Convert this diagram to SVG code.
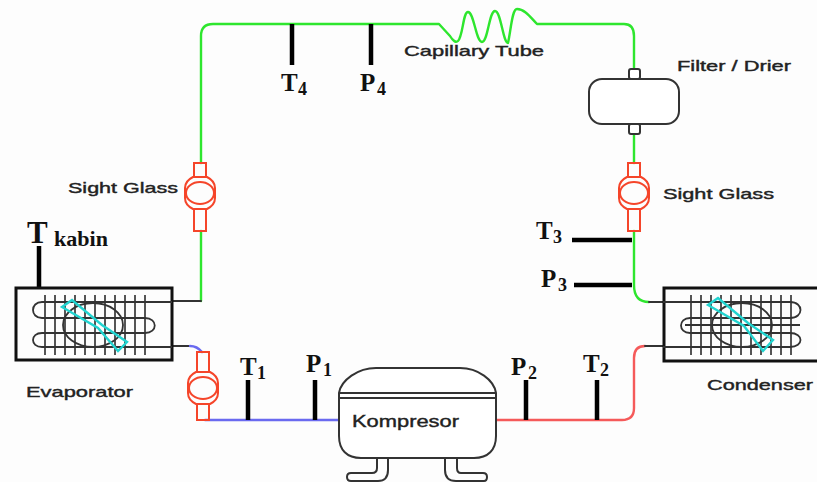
<svg xmlns="http://www.w3.org/2000/svg" width="817" height="482" viewBox="0 0 817 482">
<style>
.bg{fill:#fdfdfd}
.pipe{fill:none;stroke-width:2.4;stroke-linejoin:round;stroke-linecap:round}
.g{stroke:#2ee62e}.b{stroke:#6a6af0}.r{stroke:#f55a5a}.k{stroke:#333;stroke-width:2}
.probe{stroke:#000;stroke-width:4.5;fill:none}
.sg{fill:none;stroke:#f5452a;stroke-width:2}
.box{fill:none;stroke:#111;stroke-width:3}
.coil{fill:none;stroke:#333;stroke-width:1.8}
.fin{stroke:#555;stroke-width:2;fill:none}
.cy{fill:none;stroke:#22d4d0;stroke-width:2.4}
.part{fill:#fff;stroke:#333;stroke-width:2}
.line{fill:none;stroke:#333;stroke-width:2}
.lab{font-family:"Liberation Sans",Arial,sans-serif;font-size:15px;fill:#222;stroke:#222;stroke-width:.4}
.sym{font-family:"Liberation Serif","Times New Roman",serif;font-weight:bold;font-size:25px;fill:#111}
.sub{font-family:"Liberation Serif","Times New Roman",serif;font-weight:bold;font-size:18px;fill:#111}
</style>
<defs>
<g id="sight-body">
<path class="sg" d="M-7-16H7Q15-12 15-5V5Q15 12 7 16H-7Q-15 12-15 5V-5Q-15-12-7-16Z"/>
<ellipse class="sg" cx="0" cy="0" rx="14" ry="11"/>
</g>
</defs>
<rect class="bg" width="817" height="482"/>
<g id="connectors">
<path class="pipe g" d="M201 163V36Q201 24 213 24H439L450 36C453 41 456 43 458 41C463 36 463 12 468 12C474 12 476 42 482 42C488 42 489 11 495 11C501 11 503 43 508 43C511 30 512 9 517 9C525 9 531 18 537 24H624Q634 24 634 36V68"/>
<path class="pipe g" d="M201 231V301"/>
<path class="pipe g" d="M634 134V163"/>
<path class="pipe g" d="M634 231V285Q634 302 649 302"/>
<path class="pipe k" d="M172 301H201"/>
<path class="pipe k" d="M172 346H190"/>
<path class="pipe b" d="M190 346Q197 346 202 352"/>
<path class="pipe b" d="M205 420H338"/>
<path class="pipe r" d="M497 420H622Q634 420 634 408V358Q634 346 645 346"/>
<path class="pipe k" d="M645 346H663M649 302H663"/>
<path class="probe" d="M39 246V288M292 24V65M371 24V65M248 380V420M315 380V420M526 380V420M597 380V420M572 240H632M574 285H632"/>
</g>
<g id="evaporator">
<rect class="box" x="16" y="288" width="156" height="72"/>
<path class="fin" d="M45 295V355M55 295V355M65 295V355M75 295V355M85 295V355M95 295V355M105 295V355M115 295V355M125 295V355M135 295V355M145 295V355"/>
<path class="coil" d="M172 302H42C30 302 30 318 42 318H145C158 318 158 333 145 333H42C30 333 30 347 42 347H172"/>
<ellipse class="coil" cx="93" cy="325" rx="30" ry="22"/>
<path class="cy" d="M62 307L72 300L102 325L127 342L118 351L98 328Z"/>
</g>
<g id="condenser">
<rect class="box" x="664" y="288" width="160" height="73"/>
<path class="fin" d="M691 295V355M701 295V355M711 295V355M721 295V355M731 295V355M741 295V355M751 295V355M761 295V355M771 295V355M781 295V355M791 295V355"/>
<path class="coil" d="M663 302H790C804 302 804 318 790 318H690C678 318 678 333 690 333H790C804 333 804 347 790 347H663M685 325H800"/>
<ellipse class="coil" cx="742" cy="325" rx="30" ry="22"/>
<path class="cy" d="M708 305L718 298L748 323L773 340L763 351L744 326Z"/>
</g>
<g id="sight-glass-left">
<rect class="sg" x="194" y="163" width="12" height="14"/><rect class="sg" x="194" y="209" width="12" height="22"/><use href="#sight-body" x="200" y="193"/>
</g>
<g id="sight-glass-right">
<rect class="sg" x="628" y="163" width="12" height="14"/><rect class="sg" x="628" y="209" width="12" height="22"/><use href="#sight-body" x="634" y="193"/>
</g>
<g id="sight-glass-bottom">
<rect class="sg" x="197" y="352" width="12" height="20"/><rect class="sg" x="197" y="404" width="12" height="16"/><use href="#sight-body" x="203" y="388"/>
</g>
<g id="filter">
<rect class="part" x="629" y="69" width="11" height="10" rx="2"/>
<rect class="part" x="629" y="124" width="11" height="10" rx="2"/>
<rect class="part" x="589" y="79" width="90" height="45" rx="13"/>
</g>
<g id="compressor">
<path class="part" d="M339 393C341 380 358 368 376 368H460C478 368 494 380 496 393V436C496 450 488 458 474 458H361C347 458 339 450 339 436Z"/>
<path class="line" d="M339 393H496M339 398H496"/>
<path class="line" d="M377 458V468Q377 473 372 473H351Q347 473 347 477Q347 481 351 481H378Q388 481 388 470V458M445 458V470Q445 481 456 481H484Q487 481 487 477Q487 473 483 473H461Q457 473 457 468V458"/>
<text class="lab" x="352" y="427" style="font-size:17px" textLength="107" lengthAdjust="spacingAndGlyphs">Kompresor</text>
</g>
<g id="labels">
<text class="sym" x="27" y="243" style="font-size:31px">T</text><text class="sub" x="54" y="246" style="font-size:21px" textLength="54" lengthAdjust="spacingAndGlyphs">kabin</text>
<text class="sym" x="281" y="91">T</text><text class="sub" x="298" y="95">4</text>
<text class="sym" x="360" y="91">P</text><text class="sub" x="377" y="95">4</text>
<text class="sym" x="240" y="375">T</text><text class="sub" x="257" y="379">1</text>
<text class="sym" x="306" y="372">P</text><text class="sub" x="323" y="376">1</text>
<text class="sym" x="511" y="375">P</text><text class="sub" x="528" y="379">2</text>
<text class="sym" x="583" y="372">T</text><text class="sub" x="600" y="376">2</text>
<text class="sym" x="536" y="239">T</text><text class="sub" x="553" y="243">3</text>
<text class="sym" x="541" y="287">P</text><text class="sub" x="558" y="291">3</text>
<text class="lab" x="404" y="56" textLength="140" lengthAdjust="spacingAndGlyphs">Capillary Tube</text>
<text class="lab" x="677" y="71" textLength="114" lengthAdjust="spacingAndGlyphs">Filter / Drier</text>
<text class="lab" x="68" y="193" textLength="110" lengthAdjust="spacingAndGlyphs">Sight Glass</text>
<text class="lab" x="663" y="199" textLength="111" lengthAdjust="spacingAndGlyphs">Sight Glass</text>
<text class="lab" x="26" y="397" textLength="107" lengthAdjust="spacingAndGlyphs">Evaporator</text>
<text class="lab" x="707" y="390" textLength="106" lengthAdjust="spacingAndGlyphs">Condenser</text>
</g>
</svg>
